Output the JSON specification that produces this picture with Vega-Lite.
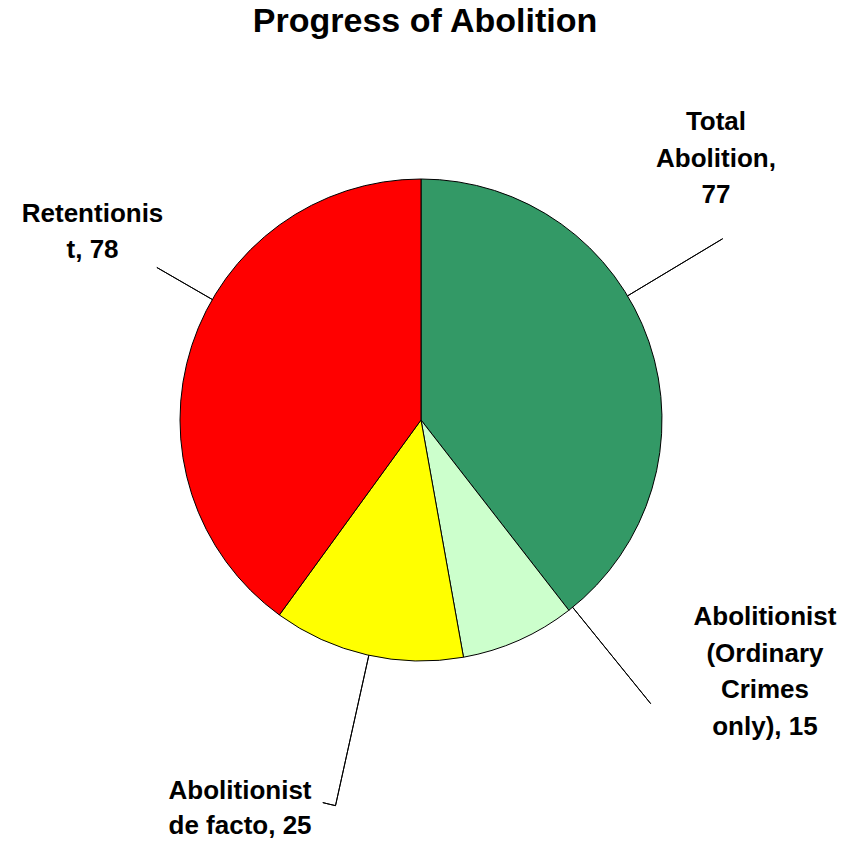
{
  "$schema": "https://vega.github.io/schema/vega-lite/v6.json",
  "width": 842,
  "height": 840,
  "autosize": {"type": "none"},
  "padding": {"left": 0, "top": 0, "right": 16, "bottom": 1},
  "background": "white",
  "title": {
    "text": "Progress of Abolition",
    "font": "Liberation Sans",
    "fontSize": 34,
    "fontWeight": "bold",
    "color": "black",
    "anchor": "middle",
    "offset": -38,
    "baseline": "alphabetic",
    "dx": 4,
    "dy": 28
  },
  "data": {
    "values": [
      {"category": "Total Abolition", "value": 77, "order": 1, "label": "Total\nAbolition,\n77"},
      {"category": "Abolitionist (Ordinary Crimes only)", "value": 15, "order": 2, "label": "Abolitionist\n(Ordinary\nCrimes\nonly), 15"},
      {"category": "Abolitionist de facto", "value": 25, "order": 3, "label": "Abolitionist\nde facto, 25"},
      {"category": "Retentionist", "value": 78, "order": 4, "label": "Retentionis\nt, 78"}
    ]
  },
  "transform": [
    {"stack": "value", "groupby": [], "sort": [{"field": "order", "order": "ascending"}], "as": ["v0", "v1"]}
  ],
  "layer": [
    {
      "mark": {"type": "arc", "radius": 241, "stroke": "black", "strokeWidth": 1},
      "encoding": {
        "theta": {"field": "v0", "type": "quantitative", "stack": null, "scale": {"domain": [0, 195]}},
        "theta2": {"field": "v1"},
        "color": {
          "field": "category",
          "type": "nominal",
          "scale": {
            "domain": ["Total Abolition", "Abolitionist (Ordinary Crimes only)", "Abolitionist de facto", "Retentionist"],
            "range": ["#339966", "#CCFFCC", "#FFFF00", "#FF0000"]
          },
          "legend": null
        }
      }
    },
    {
      "transform": [{"filter": "datum.order == 1"}],
      "mark": {"type": "arc", "radius": 352, "radius2": 241, "thetaOffset": 1.0297, "theta2Offset": 1.0297, "filled": false, "stroke": "black", "strokeWidth": 1},
      "encoding": {"theta": {"field": "v0", "type": "quantitative", "stack": null}, "theta2": {"field": "v0"}}
    },
    {
      "transform": [{"filter": "datum.order == 2"}],
      "mark": {"type": "arc", "radius": 365, "radius2": 241, "thetaOffset": -0.0201, "theta2Offset": -0.0201, "filled": false, "stroke": "black", "strokeWidth": 1},
      "encoding": {"theta": {"field": "v0", "type": "quantitative", "stack": null}, "theta2": {"field": "v0"}}
    },
    {
      "transform": [{"filter": "datum.order == 3"}],
      "mark": {"type": "arc", "radius": 395, "radius2": 241, "thetaOffset": 0.3954, "theta2Offset": 0.3954, "filled": false, "stroke": "black", "strokeWidth": 1},
      "encoding": {"theta": {"field": "v0", "type": "quantitative", "stack": null}, "theta2": {"field": "v0"}}
    },
    {
      "transform": [{"filter": "datum.order == 3"}],
      "mark": {"type": "arc", "radius": 395, "radius2": 395, "thetaOffset": 0.3954, "theta2Offset": 0.4285, "filled": false, "stroke": "black", "strokeWidth": 1},
      "encoding": {"theta": {"field": "v0", "type": "quantitative", "stack": null}, "theta2": {"field": "v0"}}
    },
    {
      "transform": [{"filter": "datum.order == 4"}],
      "mark": {"type": "arc", "radius": 305, "radius2": 241, "thetaOffset": 1.4661, "theta2Offset": 1.4661, "filled": false, "stroke": "black", "strokeWidth": 1},
      "encoding": {"theta": {"field": "v0", "type": "quantitative", "stack": null}, "theta2": {"field": "v0"}}
    },
    {
      "transform": [{"filter": "datum.order == 1"}],
      "mark": {"type": "text", "radius": 419.3, "thetaOffset": 0.7803, "font": "Liberation Sans", "fontSize": 26, "fontWeight": "bold", "align": "center", "baseline": "middle", "lineBreak": "\n", "lineHeight": 36.5, "color": "black"},
      "encoding": {"theta": {"field": "v0", "type": "quantitative", "stack": null}, "text": {"field": "label"}}
    },
    {
      "transform": [{"filter": "datum.order == 2"}],
      "mark": {"type": "text", "radius": 396.5, "thetaOffset": -0.3896, "font": "Liberation Sans", "fontSize": 26, "fontWeight": "bold", "align": "center", "baseline": "middle", "lineBreak": "\n", "lineHeight": 36.5, "color": "black"},
      "encoding": {"theta": {"field": "v0", "type": "quantitative", "stack": null}, "text": {"field": "label"}}
    },
    {
      "transform": [{"filter": "datum.order == 3"}],
      "mark": {"type": "text", "radius": 413.0, "thetaOffset": 0.6308, "font": "Liberation Sans", "fontSize": 26, "fontWeight": "bold", "align": "center", "baseline": "middle", "lineBreak": "\n", "lineHeight": 35, "color": "black"},
      "encoding": {"theta": {"field": "v0", "type": "quantitative", "stack": null}, "text": {"field": "label"}}
    },
    {
      "transform": [{"filter": "datum.order == 4"}],
      "mark": {"type": "text", "radius": 387.6, "thetaOffset": 1.5022, "font": "Liberation Sans", "fontSize": 26, "fontWeight": "bold", "align": "center", "baseline": "middle", "lineBreak": "\n", "lineHeight": 36, "color": "black"},
      "encoding": {"theta": {"field": "v0", "type": "quantitative", "stack": null}, "text": {"field": "label"}}
    }
  ]
}
